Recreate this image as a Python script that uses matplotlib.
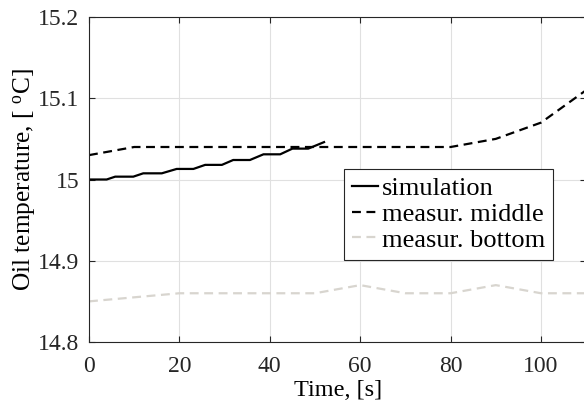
import matplotlib.pyplot as plt

plt.rcParams['font.family'] = ['Liberation Serif', 'DejaVu Serif']
plt.rcParams['mathtext.fontset'] = 'custom'
plt.rcParams['mathtext.rm'] = 'Liberation Serif'
plt.rcParams['mathtext.it'] = 'Liberation Serif'

# simulation (stepped)
t_sim = [0, 3.9, 5.8, 9.8, 12.0, 16.1, 19.4, 23.1, 25.7, 29.4, 31.9, 35.6,
         38.6, 42.3, 45.0, 48.5, 52.0]
T_sim = [15.000, 15.000, 15.0035, 15.0035, 15.0076, 15.0076, 15.013, 15.013,
         15.018, 15.018, 15.024, 15.024, 15.031, 15.031, 15.038, 15.038, 15.046]

# measurements
t_meas = [0, 10, 20, 30, 40, 50, 60, 70, 80, 90, 100, 110]
T_middle = [15.03, 15.04, 15.04, 15.04, 15.04, 15.04, 15.04, 15.04, 15.04, 15.05, 15.07, 15.11]
T_bottom = [14.85, 14.855, 14.86, 14.86, 14.86, 14.86, 14.87, 14.86, 14.86, 14.87, 14.86, 14.86]

fig = plt.figure(figsize=(5.84, 4.09), dpi=100)
ax = fig.add_axes([89/584, 67/409, 497.2/584, 325/409])

ax.plot(t_sim, T_sim, color='black', lw=1.6, label='simulation')
ax.plot(t_meas, T_middle, color='black', lw=1.6, dashes=(4, 2.5), label='measur. middle')
ax.plot(t_meas, T_bottom, color='#d8d5cf', lw=1.6, dashes=(4, 2.5), label='measur. bottom')

ax.set_xlim(0, 110)
ax.set_ylim(14.8, 15.2)
ax.set_xticks([0, 20, 40, 60, 80, 100])
ax.set_yticks([14.8, 14.9, 15.0, 15.1, 15.2])
ax.set_yticklabels(['14.8', '14.9', '15', '15.1', '15.2'])
ax.grid(True, color='#e0e0e0', lw=0.8)
ax.set_axisbelow(True)
ax.tick_params(direction='in', top=True, right=True, labelsize=17, colors='#262626', length=4)
ax.tick_params(axis='y', pad=7)
ax.tick_params(axis='x', pad=10)
for s in ax.spines.values():
    s.set_color('#262626')
    s.set_linewidth(0.8)

ax.set_xlabel('Time, [s]', fontsize=17.5, labelpad=2)
ax.set_ylabel('Oil temperature, [ $^{\\mathrm{o}}$C]', fontsize=18.3, labelpad=0)

leg = ax.legend(loc='upper left', bbox_to_anchor=(0.513, 0.532), borderaxespad=0,
                fontsize=19, handlelength=1.0, handletextpad=0.12, labelspacing=0.08,
                fancybox=False, framealpha=1, edgecolor='#262626', borderpad=0.3)
leg.get_frame().set_linewidth(0.8)

plt.savefig('out.png', dpi=100)
